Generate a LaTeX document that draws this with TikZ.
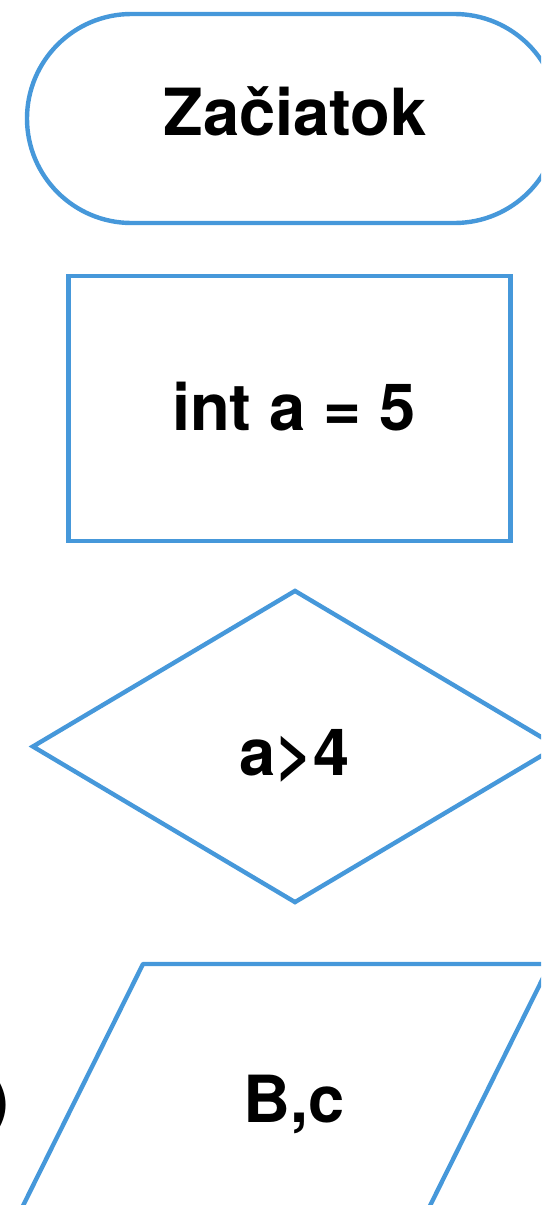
\documentclass[tikz,border=0pt]{standalone}
\usepackage{fontspec}
\setmainfont{TeX Gyre Heros}
\usetikzlibrary{shapes.geometric, shapes.misc}
\definecolor{flowblue}{RGB}{70,152,218}

\begin{document}
\begin{tikzpicture}[x=0.5pt, y=-0.5pt, font=\fontsize{32.5}{39}\selectfont\bfseries,
  tvar/.style={draw=flowblue, line width=2.2pt, inner sep=0pt},
  txt/.style={inner sep=0pt, anchor=base}]
  \useasboundingbox (0,0) rectangle (541,1205);
  \clip (0,0) rectangle (541,1205);
  % tvary
  \node[tvar, rounded rectangle, minimum width=266pt, minimum height=104.5pt] (zaciatok) at (293,118.5) {};
  \node[tvar, rectangle, minimum width=221pt, minimum height=132.5pt] (priradenie) at (289.5,408.5) {};
  \node[tvar, diamond, minimum width=263pt, minimum height=156.5pt] (podmienka) at (295,746.5) {};
  % vystup (rovnobeznik)
  \coordinate (vLH) at (143,964);
  \coordinate (vPH) at (550,964);
  \coordinate (vPD) at (411,1244);
  \coordinate (vLD) at (4,1244);
  \draw[tvar, line join=round] (vLH) -- (vPH) -- (vPD) -- (vLD) -- cycle;
  % texty
  \node[txt] (zaciatokText) at (295,135) {Začiatok};
  \node[txt] (priradenieText) at (294,430) {int a = 5};
  \node[txt] (podmienkaText) at (294.5,775) {a>4};
  \node[txt] (vystupText) at (294.5,1122) {B,c};
  \node[txt, anchor=base east] (zatvorka) at (10,1122) {)};
\end{tikzpicture}
\end{document}
